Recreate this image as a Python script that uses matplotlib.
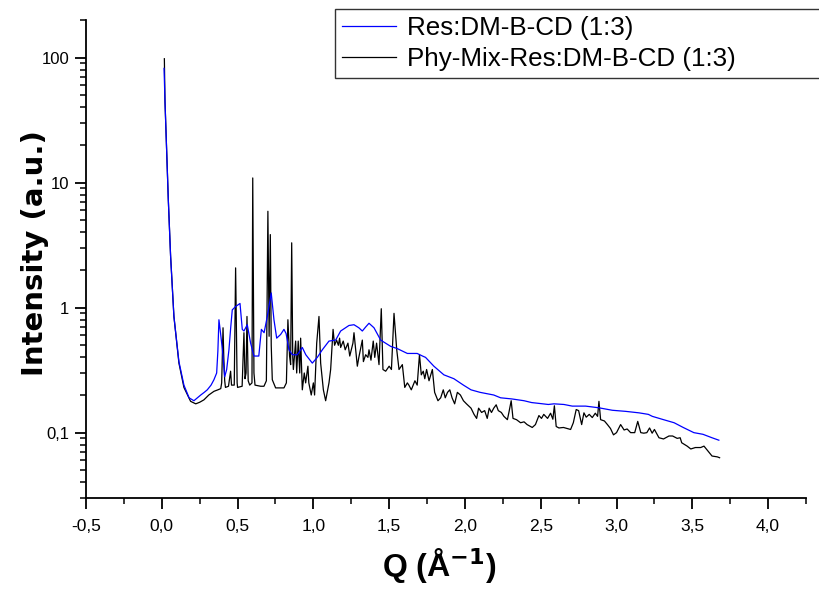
import numpy as np
import matplotlib
matplotlib.use("Agg")
import matplotlib.pyplot as plt
from matplotlib.ticker import FuncFormatter, LogLocator, MultipleLocator

# Res:DM-B-CD (1:3)  (blue)
q_res = [0.015, 0.021, 0.032, 0.043, 0.058, 0.08, 0.113, 0.146, 0.18, 0.212,
         0.235, 0.257, 0.28, 0.30, 0.325, 0.344, 0.362, 0.370, 0.377, 0.388,
         0.40, 0.415, 0.428, 0.443, 0.455, 0.465, 0.487, 0.516, 0.531, 0.542,
         0.564, 0.586, 0.608, 0.64, 0.657, 0.675, 0.696, 0.722, 0.74, 0.758,
         0.784, 0.806, 0.82, 0.839, 0.861, 0.894, 0.927, 0.95, 0.993, 1.026,
         1.059, 1.103, 1.147, 1.18, 1.235, 1.268, 1.30, 1.323, 1.345, 1.367,
         1.40, 1.444, 1.51, 1.554, 1.62, 1.685, 1.72, 1.74, 1.795, 1.861,
         1.927, 1.99, 2.04, 2.10, 2.19, 2.235, 2.31, 2.39, 2.44, 2.477,
         2.55, 2.587, 2.653, 2.708, 2.77, 2.796, 2.884, 2.972, 3.06, 3.148,
         3.21, 3.236, 3.31, 3.38, 3.44, 3.51, 3.57, 3.63, 3.675]
i_res = [82, 45, 18.2, 7.3, 2.6, 0.85, 0.37, 0.24, 0.19, 0.18,
         0.19, 0.20, 0.21, 0.22, 0.24, 0.265, 0.30, 0.45, 0.80, 0.62,
         0.46, 0.28, 0.32, 0.46, 0.70, 0.96, 1.02, 1.08, 0.67, 0.65,
         0.73, 0.52, 0.41, 0.41, 0.67, 0.63, 0.85, 1.31, 0.80, 0.57,
         0.61, 0.67, 0.62, 0.46, 0.42, 0.42, 0.48, 0.42, 0.36, 0.40,
         0.46, 0.54, 0.55, 0.65, 0.72, 0.73, 0.69, 0.65, 0.70, 0.75,
         0.69, 0.55, 0.49, 0.47, 0.43, 0.43, 0.41, 0.40, 0.34, 0.29,
         0.27, 0.24, 0.22, 0.21, 0.20, 0.19, 0.186, 0.18, 0.174, 0.172,
         0.168, 0.17, 0.168, 0.163, 0.163, 0.163, 0.158, 0.151, 0.148, 0.144,
         0.14, 0.135, 0.127, 0.12, 0.11, 0.10, 0.097, 0.091, 0.087]

# Phy-Mix-Res:DM-B-CD (1:3)  (black)
q_mix = [0.017, 0.021, 0.032, 0.043, 0.058, 0.08, 0.113, 0.146, 0.19, 0.224,
         0.25, 0.278, 0.31, 0.344, 0.37, 0.389, 0.395, 0.404, 0.409, 0.415,
         0.42, 0.44, 0.454, 0.46, 0.478, 0.487, 0.497, 0.50, 0.53, 0.542,
         0.549, 0.556, 0.562, 0.57, 0.58, 0.595, 0.60, 0.608, 0.615, 0.652,
         0.674, 0.69, 0.70, 0.708, 0.716, 0.722, 0.729, 0.751, 0.806, 0.822,
         0.832, 0.843, 0.85, 0.857, 0.864, 0.868, 0.883, 0.89, 0.90, 0.91,
         0.916, 0.927, 0.94, 0.949, 0.964, 0.97, 0.986, 1.0, 1.008, 1.022,
         1.037, 1.048, 1.066, 1.081, 1.103, 1.114, 1.13, 1.14, 1.153, 1.165,
         1.173, 1.18, 1.197, 1.21, 1.228, 1.24, 1.261, 1.268, 1.29, 1.30,
         1.31, 1.323, 1.33, 1.345, 1.36, 1.367, 1.38, 1.395, 1.405, 1.417,
         1.433, 1.448, 1.459, 1.477, 1.50, 1.515, 1.532, 1.55, 1.565, 1.587,
         1.603, 1.62, 1.63, 1.646, 1.67, 1.685, 1.70, 1.712, 1.725, 1.735,
         1.747, 1.763, 1.785, 1.80, 1.822, 1.84, 1.857, 1.87, 1.885, 1.90,
         1.915, 1.932, 1.95, 1.97, 1.99, 2.01, 2.04, 2.06, 2.077, 2.09,
         2.11, 2.13, 2.147, 2.16, 2.175, 2.19, 2.206, 2.22, 2.24, 2.257,
         2.28, 2.29, 2.305, 2.317, 2.34, 2.367, 2.39, 2.41, 2.444, 2.465,
         2.488, 2.505, 2.52, 2.545, 2.565, 2.58, 2.59, 2.602, 2.62, 2.65,
         2.697, 2.715, 2.734, 2.75, 2.77, 2.785, 2.80, 2.82, 2.84, 2.86,
         2.875, 2.884, 2.895, 2.92, 2.94, 2.96, 2.98, 3.0, 3.027, 3.05,
         3.07, 3.093, 3.12, 3.14, 3.16, 3.18, 3.20, 3.218, 3.235, 3.25,
         3.28, 3.31, 3.346, 3.37, 3.40, 3.42, 3.43, 3.466, 3.49, 3.52,
         3.555, 3.577, 3.60, 3.63, 3.665, 3.68]
i_mix = [98, 45, 18.2, 7.3, 2.6, 0.85, 0.36, 0.23, 0.178, 0.17,
         0.175, 0.183, 0.20, 0.214, 0.22, 0.225, 0.25, 0.69, 0.40, 0.26,
         0.23, 0.235, 0.31, 0.24, 0.24, 2.08, 0.25, 0.23, 0.235, 0.63,
         0.27, 0.30, 0.85, 0.26, 0.24, 0.25, 10.9, 0.30, 0.24, 0.235,
         0.235, 0.26, 5.9, 0.59, 3.84, 0.5, 0.265, 0.228, 0.228, 0.25,
         0.80, 0.41, 0.35, 3.3, 0.40, 0.32, 0.54, 0.30, 0.54, 0.30,
         0.57, 0.22, 0.30, 0.25, 0.34, 0.25, 0.20, 0.25, 0.20, 0.52,
         0.85, 0.36, 0.22, 0.18, 0.25, 0.32, 0.67, 0.50, 0.55, 0.50,
         0.57, 0.48, 0.54, 0.46, 0.52, 0.41, 0.52, 0.63, 0.34, 0.40,
         0.46, 0.55, 0.37, 0.42, 0.40, 0.46, 0.38, 0.54, 0.40, 0.52,
         0.35, 0.98, 0.32, 0.31, 0.34, 0.32, 0.90, 0.46, 0.32, 0.35,
         0.23, 0.25, 0.24, 0.22, 0.26, 0.24, 0.42, 0.29, 0.31, 0.27,
         0.32, 0.26, 0.32, 0.21, 0.18, 0.19, 0.22, 0.19, 0.21, 0.22,
         0.19, 0.17, 0.21, 0.20, 0.18, 0.17, 0.157, 0.14, 0.13, 0.157,
         0.145, 0.15, 0.13, 0.157, 0.145, 0.157, 0.167, 0.15, 0.145, 0.135,
         0.127, 0.145, 0.18, 0.13, 0.127, 0.12, 0.122, 0.116, 0.11, 0.116,
         0.137, 0.13, 0.14, 0.13, 0.143, 0.128, 0.164, 0.112, 0.109, 0.11,
         0.106, 0.12, 0.153, 0.15, 0.116, 0.144, 0.133, 0.14, 0.132, 0.143,
         0.135, 0.178, 0.127, 0.124, 0.116, 0.108, 0.096, 0.10, 0.116, 0.105,
         0.107, 0.10, 0.10, 0.123, 0.10, 0.099, 0.10, 0.109, 0.099, 0.106,
         0.091, 0.089, 0.094, 0.094, 0.09, 0.091, 0.083, 0.078, 0.074, 0.076,
         0.076, 0.078, 0.072, 0.065, 0.064, 0.063]

plt.rcParams['font.family'] = ['Liberation Sans', 'DejaVu Sans']

fig = plt.figure(figsize=(8.2, 5.89), dpi=100)
ax = fig.add_axes([86 / 820, 1 - 498 / 589, 720 / 820, 478 / 589])

l_mix, = ax.plot(q_mix, i_mix, color='black', lw=0.9)
l_res, = ax.plot(q_res, i_res, color='#0000ff', lw=0.9)

ax.set_yscale('log')
ax.set_xlim(-0.5, 4.25)
ax.set_ylim(0.03, 200)

for s in ['top', 'right']:
    ax.spines[s].set_visible(False)
for s in ['left', 'bottom']:
    ax.spines[s].set_linewidth(1.3)

ax.xaxis.set_major_locator(MultipleLocator(0.5))
ax.xaxis.set_minor_locator(MultipleLocator(0.25))
ax.yaxis.set_major_locator(LogLocator(base=10))
ax.yaxis.set_minor_locator(LogLocator(base=10, subs=np.arange(2, 10)))

def comma_fmt(v, pos):
    return f"{v:.1f}".replace('.', ',')

def log_fmt(v, pos):
    if v >= 1:
        return f"{v:.0f}"
    return f"{v:g}".replace('.', ',')

ax.xaxis.set_major_formatter(FuncFormatter(comma_fmt))
ax.yaxis.set_major_formatter(FuncFormatter(log_fmt))
ax.yaxis.set_minor_formatter(FuncFormatter(lambda v, p: ''))

ax.tick_params(which='major', direction='out', length=8, width=1.3, labelsize=12)
ax.tick_params(which='minor', direction='out', length=4.5, width=1.1)
ax.tick_params(axis='x', which='major', pad=7, labelsize=12.5)
ax.tick_params(axis='y', which='major', pad=4)

# y label is long and thin in the original, DejaVu bold gives that footprint
ax.set_ylabel('Intensity (a.u.)', fontsize=21, fontweight='bold',
              family='DejaVu Sans')
ax.yaxis.set_label_coords(-0.052, 0.513)
ax.set_xlabel(r'Q (Å$^{\mathbf{-1}}$)', fontsize=23, fontweight='bold')
ax.xaxis.set_label_coords(0.49, -0.10)

leg = fig.legend([l_res, l_mix], ['Res:DM-B-CD (1:3)', 'Phy-Mix-Res:DM-B-CD (1:3)'],
                 loc='upper left', bbox_to_anchor=(335 / 820, 0, 500 / 820, 1 - 9 / 589),
                 mode='expand', fontsize=18.7, frameon=True, fancybox=False,
                 borderaxespad=0, handlelength=2.08, handletextpad=0.42,
                 borderpad=0.28, labelspacing=0.26)
leg.get_frame().set_edgecolor('black')
leg.get_frame().set_linewidth(1.0)

fig.savefig('out.png', dpi=100)
